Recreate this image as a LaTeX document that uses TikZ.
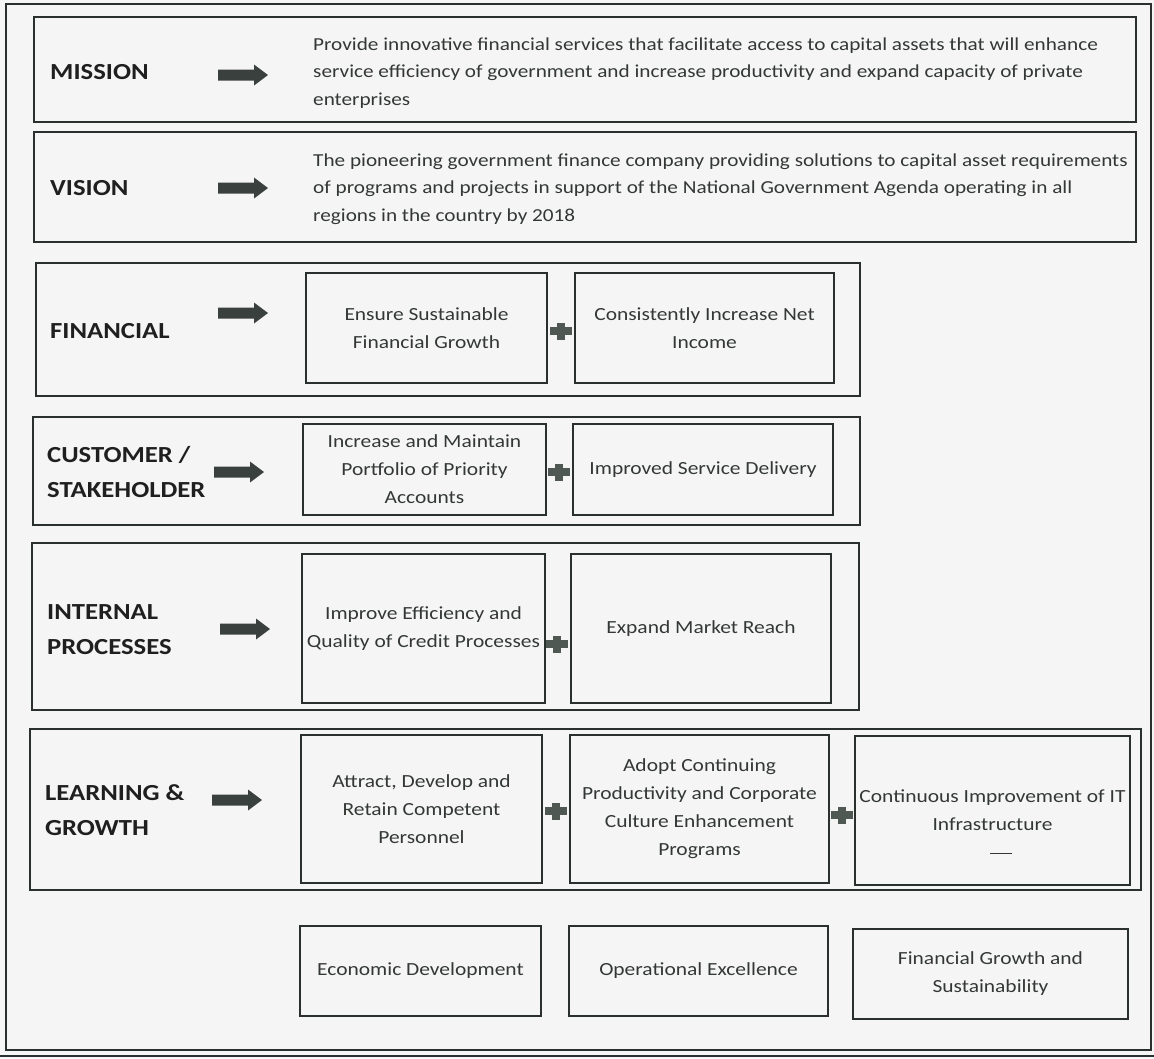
\documentclass[tikz,border=0pt]{standalone}
\usepackage{fontspec}
\setmainfont{Carlito}[FakeStretch=1.16]
\definecolor{ln}{HTML}{2A302D}
\definecolor{tx}{HTML}{333835}
\definecolor{ar}{HTML}{3A403D}
\definecolor{pl}{HTML}{505853}
\begin{document}
\begin{tikzpicture}[x=1pt,y=-1pt,
  box/.style={draw=ln, line width=1.6pt, inner sep=0pt, outer sep=0pt},
  cell/.style={box, align=center, text=tx, font=\fontsize{18.5}{28}\selectfont},
  lab/.style={anchor=west, align=left, text=black!88, inner sep=0pt, font=\fontsize{23}{35}\selectfont\bfseries},
  para/.style={anchor=west, align=left, text=tx, inner sep=0pt, font=\fontsize{18.3}{27.5}\selectfont},
  blockarrow/.pic={\fill[ar] (0,-5.5) -- (36,-5.5) -- (36,-10.5) -- (50,0) -- (36,10.5) -- (36,5.5) -- (0,5.5) -- cycle;},
  plussign/.pic={\fill[pl] (-11,-4) rectangle (11,4); \fill[pl] (-4,-8.5) rectangle (4,8.5);}
]
\useasboundingbox (0,0) rectangle (1154,1058);
\fill[white!96!black] (0,0) rectangle (1154,1058);
% outer frame
\node[box, minimum width=1145pt, minimum height=1046pt] (frame) at (578.5,527) {};
\draw[ln, line width=1.6pt] (0,1056) -- (1154,1056);

% mission
\node[box, minimum width=1102pt, minimum height=105pt] (mission) at (585,69.5) {};
\node[lab] (missionlab) at (50,72) {MISSION};
\pic at (218,75) {blockarrow};
\node[para] (missiontxt) at (313,73) {Provide innovative financial services that facilitate access to capital assets that will enhance\\service efficiency of government and increase productivity and expand capacity of private\\enterprises};

% vision
\node[box, minimum width=1102pt, minimum height=110pt] (vision) at (585,187) {};
\node[lab] (visionlab) at (50,188) {VISION};
\pic at (218,188) {blockarrow};
\node[para] (visiontxt) at (313,189) {The pioneering government finance company providing solutions to capital asset requirements\\of programs and projects in support of the National Government Agenda operating in all\\regions in the country by 2018};

% financial
\node[box, minimum width=824pt, minimum height=133pt] (finrow) at (448,329.5) {};
\node[lab] (finlab) at (50,331) {FINANCIAL};
\pic at (218,313) {blockarrow};
\node[cell, minimum width=241pt, minimum height=110pt] (f1) at (426.5,328) {Ensure Sustainable\\Financial Growth};
\node[cell, minimum width=259pt, minimum height=110pt] (f2) at (704.5,328) {Consistently Increase Net\\Income};
\pic at (561,331) {plussign};

% customer
\node[box, minimum width=827pt, minimum height=108pt] (custrow) at (446.5,471) {};
\node[lab] (custlab) at (47,472) {CUSTOMER /\\STAKEHOLDER};
\pic at (214,472) {blockarrow};
\node[cell, minimum width=243pt, minimum height=91pt] (c1) at (424.5,469.5) {Increase and Maintain\\Portfolio of Priority\\Accounts};
\node[cell, minimum width=260pt, minimum height=91pt] (c2) at (703,469.5) {Improved Service Delivery};
\pic at (559,472) {plussign};

% internal
\node[box, minimum width=827pt, minimum height=167pt] (introw) at (445.5,626.5) {};
\node[lab] (intlab) at (47,630) {INTERNAL\\PROCESSES};
\pic at (220,629) {blockarrow};
\node[cell, minimum width=243pt, minimum height=149pt] (i1) at (423.5,628.5) {Improve Efficiency and\\Quality of Credit Processes};
\node[cell, minimum width=260pt, minimum height=149pt] (i2) at (701,628.5) {Expand Market Reach};
\pic at (557,644) {plussign};

% learning
\node[box, minimum width=1111pt, minimum height=161pt] (learnrow) at (585.5,809.5) {};
\node[lab] (learnlab) at (45,810) {LEARNING \&\\GROWTH};
\pic at (212,800) {blockarrow};
\node[cell, minimum width=241pt, minimum height=148pt] (l1) at (421.5,809) {Attract, Develop and\\Retain Competent\\Personnel};
\node[cell, minimum width=259pt, minimum height=148pt] (l2) at (699.5,809) {Adopt Continuing\\Productivity and Corporate\\Culture Enhancement\\Programs};
\node[cell, minimum width=275pt, minimum height=149pt] (l3) at (992.5,810.5) {Continuous Improvement of IT\\Infrastructure};
\coordinate (dashA) at (990,853);
\coordinate (dashB) at (1012,853);
\draw[tx, line width=1pt] (dashA) -- (dashB);
\pic at (556,811) {plussign};
\pic at (842,815) {plussign};

% bottom themes
\node[cell, minimum width=241pt, minimum height=90pt] (b1) at (420.5,971) {Economic Development};
\node[cell, minimum width=259pt, minimum height=90pt] (b2) at (698.5,971) {Operational Excellence};
\node[cell, minimum width=275pt, minimum height=90pt] (b3) at (990.5,974) {Financial Growth and\\Sustainability};
\end{tikzpicture}
\end{document}
